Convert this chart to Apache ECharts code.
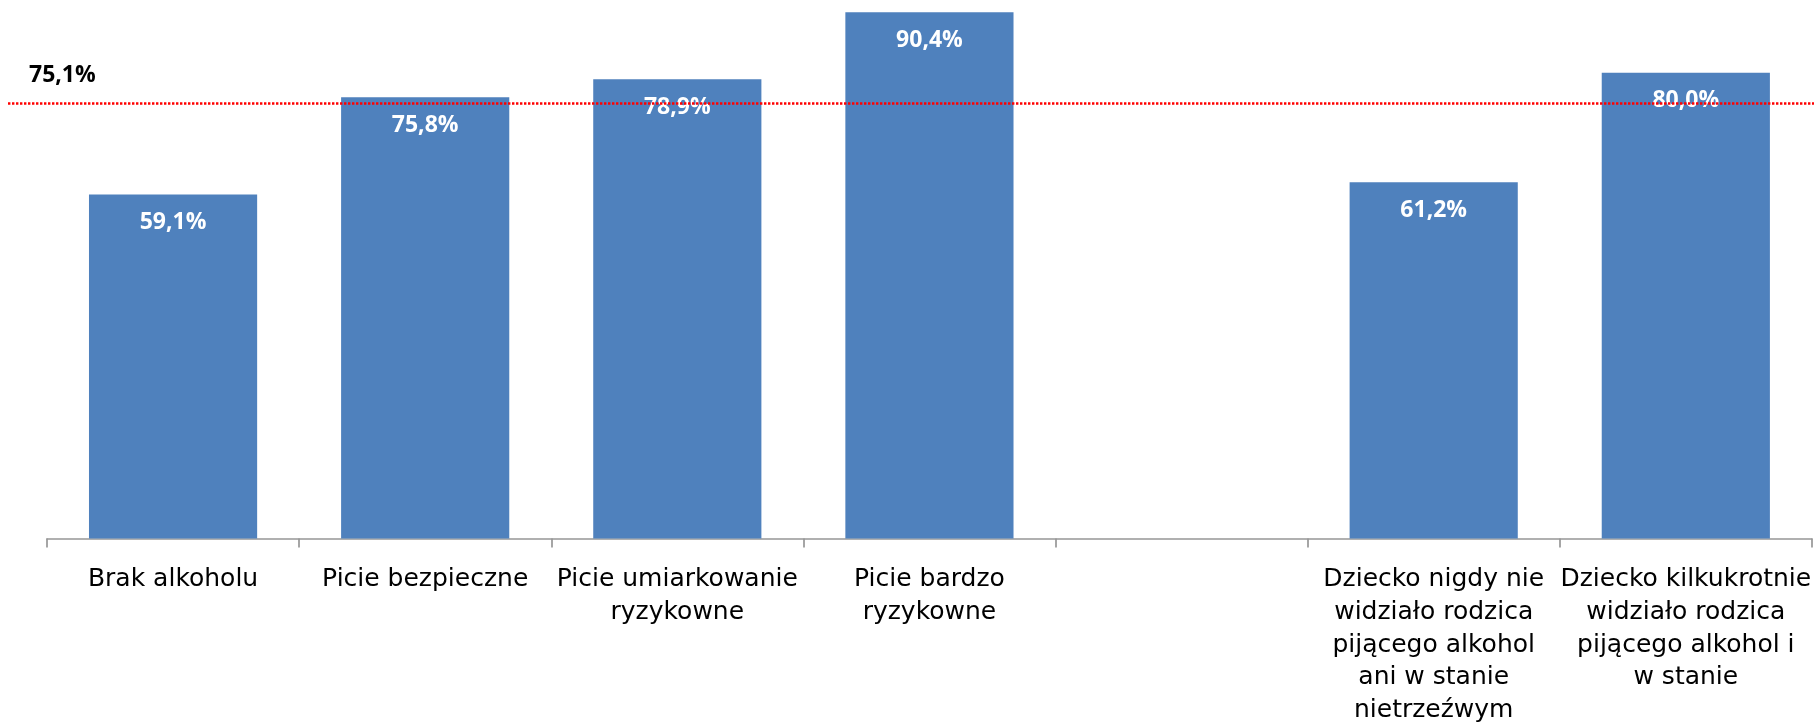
<!DOCTYPE html>
<html>
<head>
<meta charset="utf-8">
<script src="https://cdn.jsdelivr.net/npm/echarts@6/dist/echarts.min.js"></script>
<style>
html,body{margin:0;padding:0;background:#fff;}
#chart{width:1814px;height:727px;}
</style>
</head>
<body>
<div id="chart"></div>
<script>
const categories = [
  'Brak alkoholu',
  'Picie bezpieczne',
  'Picie umiarkowanie\nryzykowne',
  'Picie bardzo\nryzykowne',
  '',
  'Dziecko nigdy nie\nwidziało rodzica\npijącego alkohol\nani w stanie\nnietrzeźwym',
  'Dziecko kilkukrotnie\nwidziało rodzica\npijącego alkohol i\nw stanie'
];
const values = [59.1, 75.8, 78.9, 90.4, null, 61.2, 80.0];
const averageValue = 75.1;
const averageLabel = '75,1%';

const fmt = v => v.toFixed(1).replace('.', ',') + '%';

const chart = echarts.init(document.getElementById('chart'), null, {renderer: 'canvas'});
chart.setOption({
  animation: false,
  backgroundColor: '#ffffff',
  grid: [
    {left: 47, right: 0, top: 0, bottom: 179},
    {left: 8, right: 0, top: 0, bottom: 179}
  ],
  xAxis: [
    {
      type: 'category',
      gridIndex: 0,
      data: categories,
      axisLine: {show: true, lineStyle: {color: '#979797', width: 1.5}},
      axisTick: {show: true, length: 9, interval: 0, lineStyle: {color: '#979797', width: 1.7}},
      axisLabel: {
        interval: 0,
        margin: 25,
        color: '#000000',
        fontFamily: 'DejaVu Sans',
        fontSize: 25,
        lineHeight: 32.7,
        align: 'center'
      },
      splitLine: {show: false}
    },
    {type: 'value', gridIndex: 1, min: 0, max: 1, show: false}
  ],
  yAxis: [
    {type: 'value', gridIndex: 0, min: 0, max: 92.5, show: false, splitLine: {show: false}},
    {type: 'value', gridIndex: 1, min: 0, max: 92.5, show: false, splitLine: {show: false}}
  ],
  series: [
    {
      type: 'bar',
      xAxisIndex: 0,
      yAxisIndex: 0,
      data: values,
      barCategoryGap: '33.3%',
      itemStyle: {color: '#4F81BD'},
      silent: true,
      label: {
        show: true,
        position: 'insideTop',
        distance: 15,
        color: '#ffffff',
        fontFamily: 'Open Sans',
        fontWeight: 'bold',
        fontSize: 23,
        lineHeight: 26,
        formatter: p => fmt(p.value)
      }
    },
    {
      type: 'line',
      xAxisIndex: 1,
      yAxisIndex: 1,
      data: [],
      silent: true,
      markLine: {
        silent: true,
        symbol: ['none', 'none'],
        lineStyle: {color: '#FF0000', width: 2.6, type: [2.4, 1.6]},
        label: {
          show: true,
          position: 'insideStartTop',
          distance: [21, 16],
          color: '#000000',
          fontFamily: 'Open Sans',
          fontWeight: 'bold',
          fontSize: 23,
          lineHeight: 24,
          formatter: () => averageLabel
        },
        emphasis: {disabled: true},
        data: [{yAxis: averageValue}]
      }
    }
  ]
});
</script>
</body>
</html>
